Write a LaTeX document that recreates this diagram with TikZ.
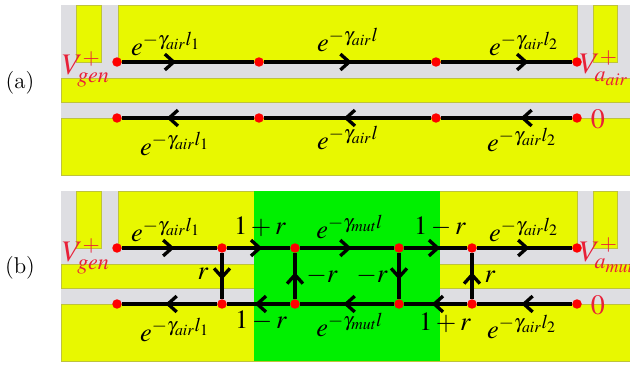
\documentclass[tikz,border=0pt]{standalone}
\usepackage{amsmath,amssymb}
\usepackage{mathptmx}
\usepackage{xcolor}
\usepackage{tikz}
\usetikzlibrary{arrows.meta,decorations.markings}

\definecolor{metal}{RGB}{232,248,0}
\definecolor{metaledge}{RGB}{190,195,60}
\definecolor{gap}{RGB}{222,222,226}
\definecolor{mut}{RGB}{0,240,0}
\definecolor{port}{RGB}{232,32,56}
\newcommand{\gair}{\gamma_{\mathit{air}}}
\newcommand{\gmut}{\gamma_{\mathit{mut}}}

\tikzset{
  metalbox/.style={fill=metal, draw=metaledge, line width=0.3pt},
  junction/.style={circle, fill=red, inner sep=0pt, minimum size=0.19cm},
  wire/.style={line width=1.9pt, postaction={decorate},
    decoration={markings, mark=at position #1 with {\arrow[line width=1.9pt]{Straight Barb[length=5pt,width=9pt]}}}},
  coeff/.style={font=\fontsize{15}{18}\selectfont, text=black, inner sep=0pt},
  portlabel/.style={font=\fontsize{17}{20}\selectfont, text=port, inner sep=0pt},
  zerolabel/.style={font=\fontsize{16}{19}\selectfont, text=port, inner sep=0pt},
  tag/.style={font=\fontsize{13}{16}\selectfont, inner sep=0pt},
}

\begin{document}
\begin{tikzpicture}[x=0.02cm, y=-0.02cm]
\useasboundingbox (0,0) rectangle (630,365);

% substrate of both panels
\foreach \dy in {0,186} {
  \fill[gap] (61,5+\dy) rectangle (630,175+\dy);
  \draw[metalbox] (76,5+\dy) rectangle (101,62+\dy);
  \draw[metalbox] (118,5+\dy) rectangle (577,62+\dy);
  \draw[metalbox] (593,5+\dy) rectangle (617,62+\dy);
  \draw[metalbox] (61,78+\dy) rectangle (630,102+\dy);
  \draw[metalbox] (61,118+\dy) rectangle (630,175+\dy);
}
\fill[mut] (254,191) rectangle (440,361);

% panel (a)
\node[tag] (taga) at (20,83) {(a)};
\node[junction] (a1) at (117,62) {};
\node[junction] (a2) at (259,62) {};
\node[junction] (a3) at (436,62) {};
\node[junction] (a4) at (577,62) {};
\node[junction] (a5) at (117,118) {};
\node[junction] (a6) at (259,118) {};
\node[junction] (a7) at (436,118) {};
\node[junction] (a8) at (577,118) {};
\draw[wire=0.41] (a1) -- (a2);
\draw[wire=0.525] (a2) -- (a3);
\draw[wire=0.667] (a3) -- (a4);
\draw[wire=0.394] (a8) -- (a7);
\draw[wire=0.523] (a7) -- (a6);
\draw[wire=0.662] (a6) -- (a5);
\node[coeff] (la1) at (166,44) {$e^{-\gair l_1}$};
\node[coeff] (la2) at (348,40) {$e^{-\gair l}$};
\node[coeff] (la3) at (524,44) {$e^{-\gair l_2}$};
\node[coeff] (la4) at (175,144) {$e^{-\gair l_1}$};
\node[coeff] (la5) at (348,138) {$e^{-\gair l}$};
\node[coeff] (la6) at (522,140) {$e^{-\gair l_2}$};
\node[portlabel] (va) at (86,69) {$V_{\mathit{gen}}^{+}$};
\node[portlabel] (vb) at (604,68) {$V_{a_{\mathit{air}}}^{+}$};
\node[zerolabel] (za) at (598,119) {$0$};

% panel (b)
\node[tag] (tagb) at (20,268) {(b)};
\node[junction] (b1) at (117,248) {};
\node[junction] (b2) at (222,248) {};
\node[junction] (b3) at (295,248) {};
\node[junction] (b4) at (399,248) {};
\node[junction] (b5) at (472,248) {};
\node[junction] (b6) at (577,248) {};
\node[junction] (c1) at (117,304) {};
\node[junction] (c2) at (222,304) {};
\node[junction] (c3) at (295,304) {};
\node[junction] (c4) at (399,304) {};
\node[junction] (c5) at (472,304) {};
\node[junction] (c6) at (577,304) {};
\draw[wire=0.552] (b1) -- (b2);
\draw[wire=0.56] (b2) -- (b3);
\draw[wire=0.548] (b3) -- (b4);
\draw[wire=0.575] (b4) -- (b5);
\draw[wire=0.552] (b5) -- (b6);
\draw[wire=0.533] (c6) -- (c5);
\draw[wire=0.56] (c5) -- (c4);
\draw[wire=0.538] (c4) -- (c3);
\draw[wire=0.56] (c3) -- (c2);
\draw[wire=0.543] (c2) -- (c1);
\draw[wire=0.58] (b2) -- (c2);
\draw[wire=0.58] (c3) -- (b3);
\draw[wire=0.58] (b4) -- (c4);
\draw[wire=0.58] (c5) -- (b5);
\node[coeff] (lb1) at (166,230) {$e^{-\gair l_1}$};
\node[coeff] (lb2) at (260,227) {$1+r$};
\node[coeff] (lb3) at (350,227) {$e^{-\gmut l}$};
\node[coeff] (lb4) at (440,227) {$1-r$};
\node[coeff] (lb5) at (524,230) {$e^{-\gair l_2}$};
\node[coeff] (lb6) at (175,330) {$e^{-\gair l_1}$};
\node[coeff] (lb7) at (261,321) {$1-r$};
\node[coeff] (lb8) at (350,325) {$e^{-\gmut l}$};
\node[coeff] (lb9) at (445,323) {$1+r$};
\node[coeff] (lb10) at (522,327) {$e^{-\gair l_2}$};
\node[coeff] (rb1) at (203,274) {$r$};
\node[coeff] (rb2) at (322,276) {$-r$};
\node[coeff] (rb3) at (372,276) {$-r$};
\node[coeff] (rb4) at (490,277) {$r$};
\node[portlabel] (vc) at (86,256) {$V_{\mathit{gen}}^{+}$};
\node[portlabel] (vd) at (607,255) {$V_{a_{\mathit{mut}}}^{+}$};
\node[zerolabel] (zb) at (598,305) {$0$};
\end{tikzpicture}
\end{document}
